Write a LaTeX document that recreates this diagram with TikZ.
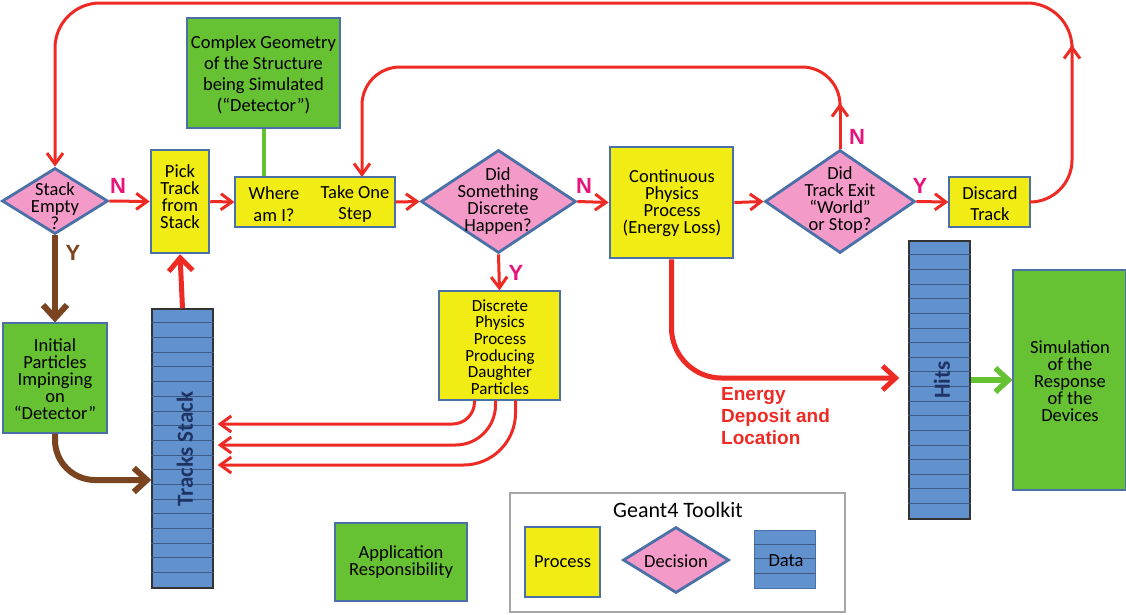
\documentclass[tikz,border=0pt]{standalone}
\usepackage{fontspec}
\setmainfont{Carlito}
\newfontfamily\lbfont{Liberation Sans}
\usetikzlibrary{arrows.meta,shapes.geometric}
\definecolor{flowred}{HTML}{EE2A24}
\definecolor{ynpink}{HTML}{E8147A}
\definecolor{brownarr}{HTML}{7A4420}
\definecolor{procyel}{HTML}{F0EC14}
\definecolor{decpink}{HTML}{F49AC8}
\definecolor{appgreen}{HTML}{66C133}
\definecolor{datablue}{HTML}{6292CE}
\definecolor{edgeblue}{HTML}{4A70A8}
\definecolor{navytext}{HTML}{1F3464}
\lineskiplimit=-100pt
\begin{document}
\begin{tikzpicture}[x=1pt,y=-1pt,>={Straight Barb[length=11pt,width=16pt]},
  every node/.style={font=\fontsize{18.5}{17}\selectfont,align=center,inner sep=0pt},
  proc/.style={draw=edgeblue,fill=procyel,line width=1.2pt},
  appl/.style={draw=edgeblue,fill=appgreen,line width=1.2pt},
  decis/.style={diamond,draw=edgeblue,fill=decpink,line width=2.8pt},
  datab/.style={draw=black!80,fill=datablue,line width=1.5pt},
  stackln/.style={draw=edgeblue!80!black,line width=1pt},
  flow/.style={draw=flowred,line width=3pt,->},
  bigflow/.style={line width=5pt,-{Straight Barb[length=13pt,width=24pt]}},
  yn/.style={font=\fontsize{22}{22}\selectfont\lbfont\bfseries,text=ynpink}]
\useasboundingbox (0,0) rectangle (1126,614);

% process chain
\node[decis,minimum width=106pt,minimum height=66pt] (empty) at (55,201) {};
\node (emptytxt) at (55,206) {Stack\\Empty\\?};
\node[proc,line width=2.5pt,minimum width=58pt,minimum height=103pt] (pick) at (180,201.5) {};
\node (picktxt) at (180,197) {Pick\\Track\\from\\Stack};
\node[proc,minimum width=160pt,minimum height=50pt] (where) at (315,202) {};
\node[font=\fontsize{18.5}{21.5}\selectfont] (wheretxt) at (274,204) {Where\\am I?};
\node[font=\fontsize{18.5}{21.5}\selectfont] (steptxt) at (355,204) {Take One\\Step};
\node[appl,line width=2.8pt,minimum width=153pt,minimum height=110pt] (geom) at (263.5,73) {};
\node[font=\fontsize{18.5}{21}\selectfont] (geomtxt) at (263.5,75) {Complex Geometry\\of the Structure\\being Simulated\\(``Detector'')};
\node[decis,minimum width=155pt,minimum height=103pt] (discq) at (498.5,201.5) {};
\node (discqtxt) at (498,201) {Did\\Something\\Discrete\\Happen?};
\node[proc,line width=2.8pt,minimum width=123pt,minimum height=111pt] (cont) at (671.5,202.5) {};
\node (conttxt) at (672,203) {Continuous\\Physics\\Process\\(Energy Loss)};
\node[decis,minimum width=150pt,minimum height=103pt] (exitq) at (840,201.5) {};
\node (exitqtxt) at (840,200) {Did\\Track Exit\\``World''\\or Stop?};
\node[proc,minimum width=81pt,minimum height=50pt] (discard) at (989.5,202) {};
\node[font=\fontsize{18.5}{21}\selectfont] (discardtxt) at (990,204) {Discard\\Track};
\node[proc,minimum width=121pt,minimum height=109pt] (daughter) at (499.5,345.5) {};
\node[font=\fontsize{17}{16.7}\selectfont] (daughtertxt) at (500,347) {Discrete\\Physics\\Process\\Producing\\Daughter\\Particles};

% data and user side
\node[appl,minimum width=104pt,minimum height=110pt] (init) at (55,378) {};
\node (inittxt) at (55,379) {Initial\\Particles\\Impinging\\on\\``Detector''};
\node[datab,minimum width=61pt,minimum height=279pt] (tstack) at (182.5,448.5) {};
\foreach \i in {1,...,18}
  \draw[stackln] ([yshift=-\i*14.68pt]tstack.north west) -- ([yshift=-\i*14.68pt]tstack.north east);
\node[rotate=90,font=\fontsize{23}{23}\selectfont\bfseries,text=navytext] (tstacktxt) at (185,449) {Tracks Stack};
\node[datab,minimum width=61pt,minimum height=278pt] (hits) at (939.5,380) {};
\foreach \i in {1,...,18}
  \draw[stackln] ([yshift=-\i*14.63pt]hits.north west) -- ([yshift=-\i*14.63pt]hits.north east);
\node[rotate=90,font=\fontsize{23}{23}\selectfont\bfseries,text=navytext] (hitstxt) at (942,380) {Hits};
\node[appl,minimum width=113pt,minimum height=220pt] (sim) at (1069.5,380) {};
\node (simtxt) at (1070,381) {Simulation\\of the\\Response\\of the\\Devices};
\node[appl,minimum width=132pt,minimum height=78pt] (app) at (401,562) {};
\node (apptxt) at (401,562) {Application\\Responsibility};

% legend
\node[draw=black!35,line width=2.5pt,minimum width=335pt,minimum height=119pt] (legend) at (677.5,552.5) {};
\node[font=\fontsize{22}{22}\selectfont] (legendtxt) at (678,510) {Geant4 Toolkit};
\node[proc,minimum width=75pt,minimum height=70pt] (lproc) at (562.5,562) {Process};
\node[decis,minimum width=106pt,minimum height=66pt] (ldec) at (676,560) {};
\node (ldectxt) at (676,561) {Decision};
\node[datab,line width=1pt,draw=edgeblue,minimum width=61pt,minimum height=58pt] (ldata) at (784.5,559) {};
\foreach \i in {1,2,3}
  \draw[stackln] ([yshift=-\i*14.5pt]ldata.north west) -- ([yshift=-\i*14.5pt]ldata.north east);
\node (ldatatxt) at (786,561) {Data};

% connectors
\draw[flow] (empty.east) -- (pick.west);
\node[yn] (nempty) at (118,186) {N};
\draw[flow] (pick.east) -- (where.west);
\draw[flow] (where.east) -- (discq.west);
\draw[flow] (discq.east) -- (cont.west);
\node[yn] (ndisc) at (584,186) {N};
\draw[flow] (cont.east) -- (exitq.west);
\draw[flow] (exitq.east) -- (discard.west);
\node[yn] (yexit) at (920,186) {Y};
\draw[flow] (discq.south) -- (daughter.north);
\node[yn] (ydisc) at (516,273) {Y};
\draw[appgreen,line width=4pt] (geom.south) -- (where.north -| geom.south);

\coordinate (uprt) at (1072,45);
\coordinate (toprt) at (1072,3);
\draw[flow,rounded corners=42pt] (discard.east) -| (uprt);
\draw[flow,rounded corners=45pt] (uprt) -- (toprt) -| (empty.north);

\coordinate (upex) at (840,103);
\coordinate (topex) at (840,67);
\coordinate (steptop) at (362,177);
\draw[flow] (exitq.north) -- (upex);
\node[yn] (nexit) at (857,137) {N};
\draw[flow,rounded corners=38pt] (upex) -- (topex) -| (steptop);

\draw[flow,bigflow] (tstack.north) -- (pick.south);
\draw[flow,shorten >=4pt,rounded corners=22pt] ([xshift=-25pt]daughter.south) |- ([yshift=24.5pt]tstack.east);
\draw[flow,shorten >=4pt,rounded corners=40pt] ([xshift=-4pt]daughter.south) |- ([yshift=3.5pt]tstack.east);
\draw[flow,shorten >=4pt,rounded corners=52pt] ([xshift=16pt]daughter.south) |- ([yshift=-16.5pt]tstack.east);

\draw[flow,bigflow,rounded corners=50pt] (cont.south) |- ([xshift=-9pt,yshift=2pt]hits.west);
\node[anchor=north west,align=left,font=\fontsize{19}{22}\selectfont\lbfont\bfseries,text=flowred] (energy) at (721,387) {Energy\\Deposit and\\Location};
\draw[bigflow,draw=appgreen,line width=5.5pt] (hits.east) -- (sim.west);

\draw[bigflow,draw=brownarr,line width=6pt] (empty.south) -- (init.north);
\node[yn,text=brownarr] (yempty) at (73,253) {Y};
\draw[bigflow,draw=brownarr,line width=6pt,rounded corners=40pt] (init.south) |- ([yshift=-31.5pt]tstack.west);
\end{tikzpicture}
\end{document}
